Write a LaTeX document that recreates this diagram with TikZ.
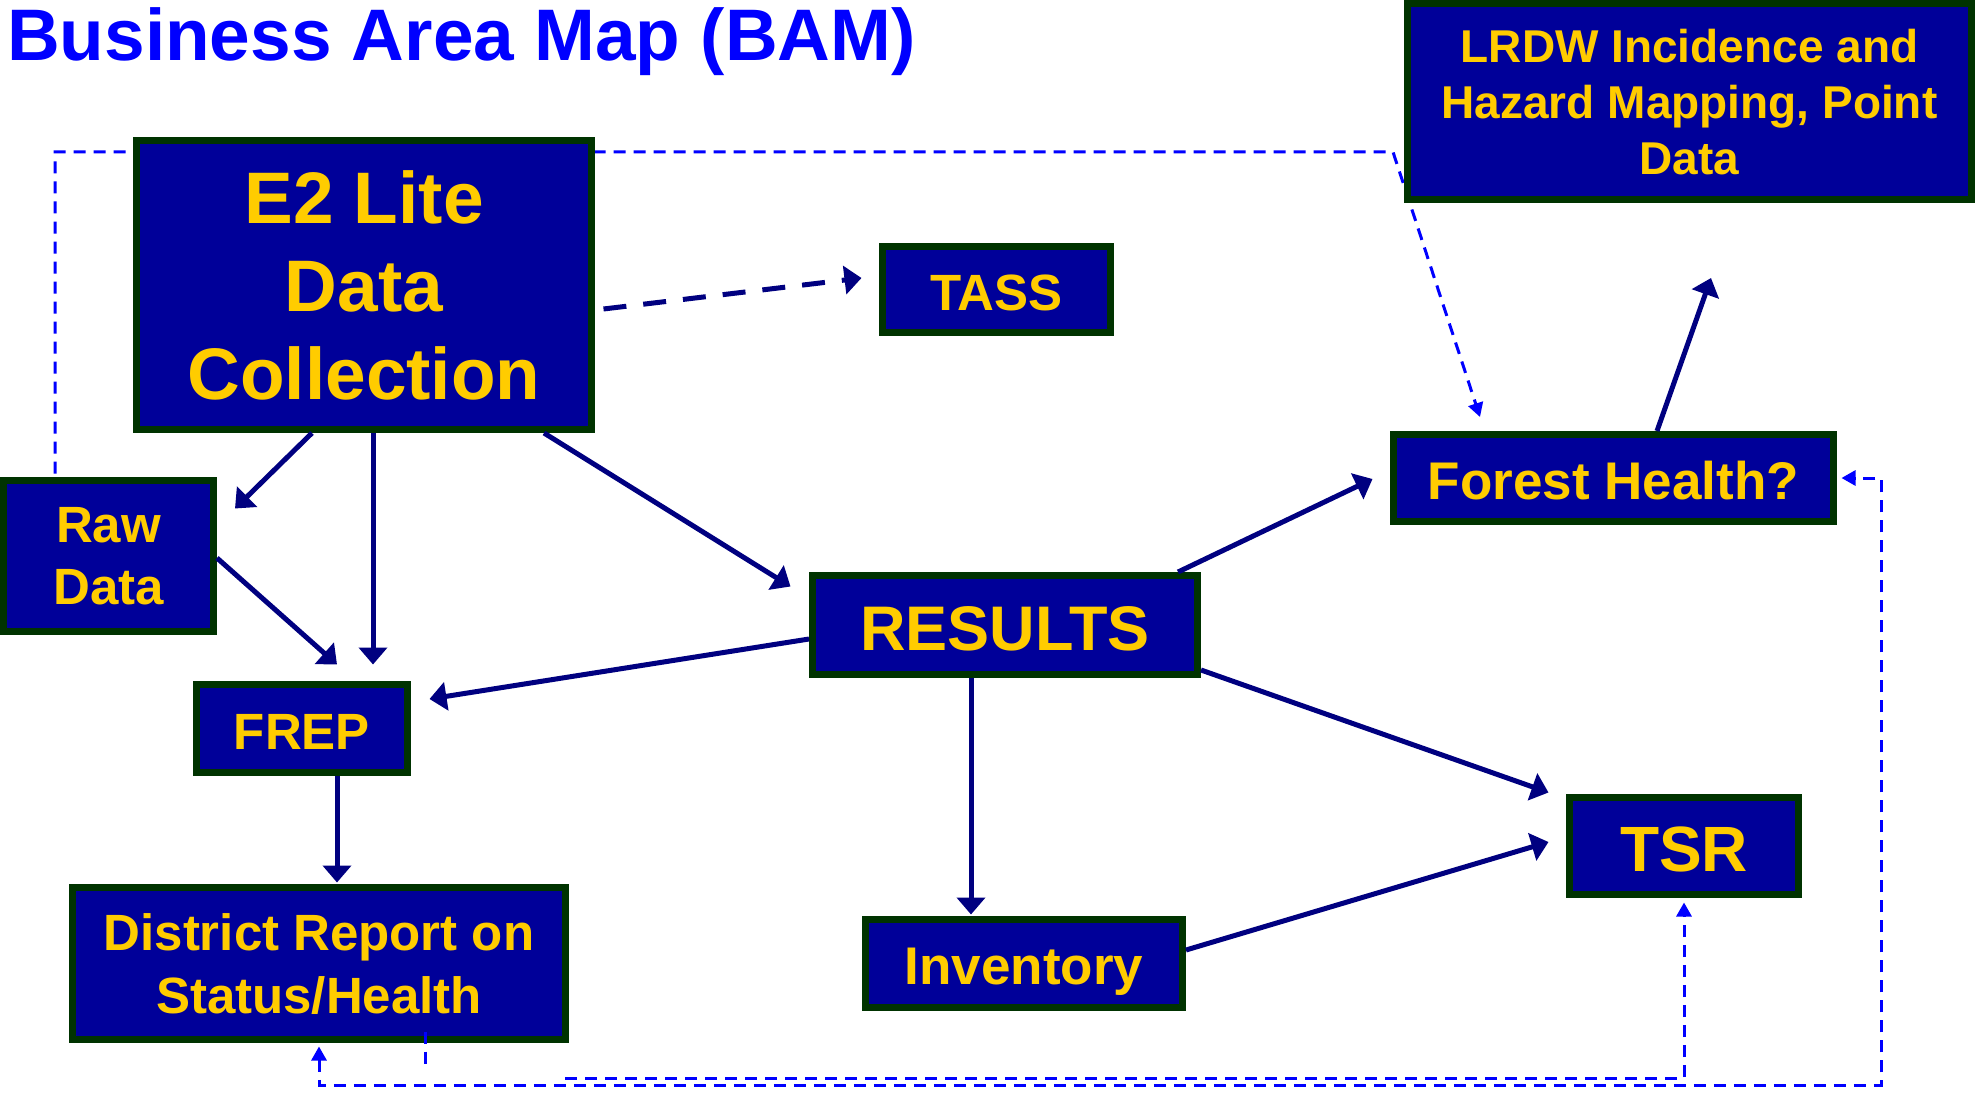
\documentclass[tikz,border=0pt]{standalone}
\usepackage{fontspec}
\setmainfont{Liberation Sans}
\usetikzlibrary{arrows.meta,calc}
\definecolor{boxfill}{HTML}{000099}
\definecolor{boxedge}{HTML}{003300}
\definecolor{txtc}{HTML}{FFCC00}
\definecolor{arrowc}{HTML}{000080}
\definecolor{dashc}{HTML}{0000FF}
\tikzset{
  box/.style={draw=boxedge, fill=boxfill, line width=7pt, inner sep=0pt,
    text=txtc, align=center, text depth=0pt},
  flow/.style={draw=arrowc, line width=5pt, -{Triangle[length=17pt,width=28pt]}},
  flowdash/.style={flow, dash pattern=on 23pt off 17pt},
  dline/.style={draw=dashc, line width=3pt, dash pattern=on 12pt off 8pt},
  dtip/.style={-{Triangle[length=14pt,width=15pt]}},
}
\newcommand{\fs}[2]{\bfseries\fontsize{#1}{#2}\selectfont}
\begin{document}
\begin{tikzpicture}[x=1pt,y=-1pt]
\useasboundingbox[fill=white] (0,0) rectangle (1975,1094);

\node[anchor=base west, text=dashc, font=\fs{73}{80}, inner sep=0pt] (title) at (7,61) {Business Area Map (BAM)};

% dashed line behind E2 box (drawn first)
\coordinate (dtl) at (55,152);
\coordinate (dtr) at (1393,152);
\node[box, minimum width=210pt, minimum height=151pt, font=\fs{51}{62}] (raw) at (108.5,556) {Raw\\Data};
\draw[dline, dtip] ($(raw.north)+(-53.5,-3.5)$) -- (dtl) -- (dtr) -- (1480,417);

\node[box, minimum width=455pt, minimum height=289pt, font=\fs{73}{88}] (e2) at (364,285) {E2 Lite\\Data\\Collection};
\node[box, minimum width=228pt, minimum height=86pt, font=\fs{51}{60}, text height=41pt] (tass) at (996.5,289.5) {TASS};
\node[box, minimum width=564pt, minimum height=196pt, font=\fs{46}{56}] (lrdw) at (1689.5,101.5) {LRDW Incidence and\\Hazard Mapping, Point\\Data};
\node[box, minimum width=211pt, minimum height=88pt, font=\fs{51}{60}, text height=41pt] (frep) at (302,728.5) {FREP};
\node[box, minimum width=385pt, minimum height=99pt, font=\fs{63}{70}, text height=50pt] (results) at (1005,625) {RESULTS};
\node[box, minimum width=440pt, minimum height=87pt, font=\fs{53}{60}, text height=42pt] (fh) at (1613.5,478) {Forest Health?};
\node[box, minimum width=229pt, minimum height=97pt, font=\fs{64}{70}, text height=51pt] (tsr) at (1684,846) {TSR};
\node[box, minimum width=493pt, minimum height=152pt, font=\fs{51}{63}] (district) at (319,963.5) {District Report on\\Status/Health};
\node[box, minimum width=317pt, minimum height=88pt, font=\fs{53}{60}, text height=42.5pt] (inv) at (1024,963.5) {Inventory};

% solid flows
\draw[flow] ($(e2.south)+(-52,0)$) -- ($(raw.north east)+(18,31.5)$);
\draw[flow] ($(e2.south)+(9,0)$) -- ($(frep.north)+(71,-16.5)$);
\draw[flow] ($(e2.south)+(180,0)$) -- ($(results.north west)+(-18.5,14.5)$);
\draw[flow] ($(raw.east)+(0,2)$) -- ($(frep.north)+(35,-16.5)$);
\draw[flow] ($(results.west)+(0,14)$) -- ($(frep.east)+(18.5,-29.5)$);
\draw[flow] ($(frep.south)+(35,0)$) -- ($(district.north)+(18,-1.5)$);
\draw[flow] ($(results.south)+(-34,0)$) -- ($(inv.north)+(-53,-1.5)$);
\draw[flow] ($(results.east)+(0,45)$) -- ($(tsr.north west)+(-17.5,-1.5)$);
\draw[flow] ($(results.north)+(173,0)$) -- ($(fh.west)+(-17.5,1)$);
\draw[flow] ($(inv.east)+(0,-13.5)$) -- ($(tsr.west)+(-17.5,-4)$);
\coordinate (fhup) at ($(lrdw.south)+(21.5,75)$);
\draw[flow] ($(fh.north)+(43.5,0)$) -- (fhup);
\draw[flowdash] ($(e2.east)+(8.5,24)$) -- ($(tass.west)+(-17.5,-11.5)$);

% dashed blue feedback lines
\coordinate (brc) at (1881,1085);
\draw[dline, {Triangle[length=14pt,width=15pt]}-{Triangle[length=14pt,width=15pt]}]
  ($(district.south)+(0,3.5)$) |- (brc) |- ($(fh.east)+(4.5,0)$);
\coordinate (tsrl) at (565,1078);
\draw[dline, dtip] (tsrl) -| ($(tsr.south)+(0,4.5)$);
\draw[dline] ($(district.south)+(106,-11.5)$) -- ++(0,32);
\end{tikzpicture}
\end{document}
